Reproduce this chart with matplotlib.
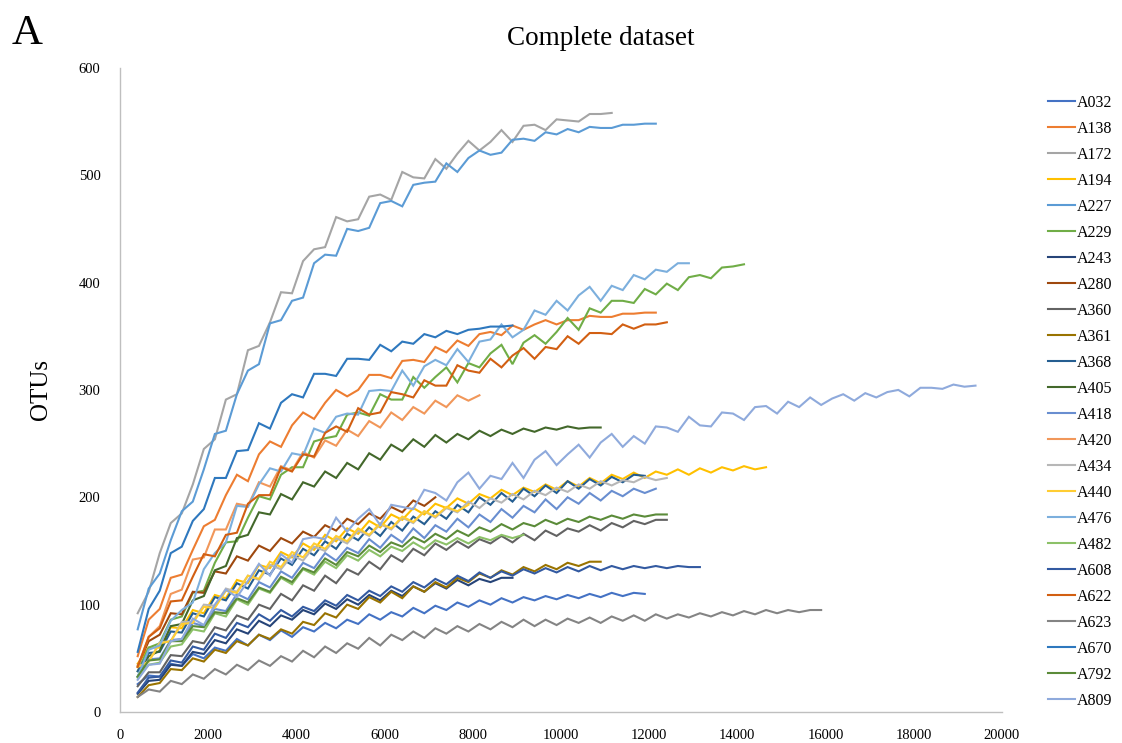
import numpy as np
import matplotlib
matplotlib.use("Agg")
import matplotlib.pyplot as plt

plt.rcParams['font.family'] = ['Liberation Serif', 'DejaVu Serif']

# rarefaction sampling: first depth and depth step (reads)
START = 400
STEP = 250

names = ["A032", "A138", "A172", "A194", "A227", "A229", "A243", "A280",
         "A360", "A361", "A368", "A405", "A418", "A420", "A434", "A440",
         "A476", "A482", "A608", "A622", "A623", "A670", "A792", "A809"]

A032 = [26,34,33,45,43, 54,50,60,57, 68,62,72,67, 76,70,79,75, 83,78,86,82,
        91,86,93,89, 97,92,99,95, 102,98,104,100, 106,102,107,104, 108,105,109,106,
        110,107,111,108, 111,110]
A138 = [52,86,96,125,128,151,173,179,202,221,215,240,252,247,267,279,273,288,300,294,
        300,314,314,311,327,328,326,340,335,346,341,352,354,351,360,356,361,365,361,365,
        365,369,368,368,371,371,372,372]
A172 = [92,112,148,176,185,212,245,254,291,296,337,341,363,391,390,420,431,433,461,457,
        459,480,482,477,503,498,497,515,506,520,532,523,531,542,531,546,547,542,552,551,
        550,557,557,558]
A194 = [45,60,60,79,78, 95,92,109,106, 123,120,137,134, 149,144,157,151, 165,159,171,166,
        178,172,184,179, 190,184,194,190, 199,194,203,199, 207,202,209,205, 212,207,215,210,
        218,213,221,217, 223,218,224,221, 226,221,227,223, 228,225,229,226, 228]
A227 = [77,115,129,160,187,196,226,259,262,296,318,324,362,365,383,386,418,426,425,450,
        448,451,474,476,471,491,493,494,511,503,516,523,519,521,533,534,532,540,538,543,
        540,545,544,544,547,547,548,548]
A229 = [38,60,64,86,89,111,113,139,158,159,181,201,198,221,228,228,252,255,257,277,
        279,276,296,291,291,312,302,312,321,307,325,321,334,342,324,344,351,343,354,367,
        356,376,372,383,383,381,394,389,399,393,405,407,404,414,415,417]
A243 = [17,29,30,44,43,56,54,67,64,77,73,85,80,90,86,95,91,101,96,105,
        100,109,104,113,108,117,112,120,115,123,118,124,121,125,125]
A280 = [43,66,72,92,91,112,111,131,129,145,141,155,150,162,157,168,163,174,169,180,
        175,185,180,191,186,197,192,200]
A360 = [24,37,37,53,52, 66,64,79,76, 90,86,100,96, 110,104,118,113, 127,120,133,128,
        140,133,146,140, 152,146,157,151, 159,153,161,157, 164,158,166,160, 169,164,171,168,
        174,169,176,172, 178,175,179,179]
A361 = [14,25,27,40,39,50,47,58,55,66,62,72,68,77,73,84,81,92,88,100,
        96,107,102,112,106,117,112,121,116,125,121,129,125,132,128,135,131,137,133,139,
        136,140,140]
A368 = [38,55,56,75,74, 92,89,107,104, 120,115,132,128, 143,137,152,146, 159,152,166,160,
        172,164,177,169, 182,175,187,180, 193,186,200,193, 204,196,208,201, 211,204,215,208,
        217,211,219,214, 221,220]
A405 = [33,52,57,80,82,104,108,132,136,162,165,186,184,203,198,214,210,224,218,232,
        226,241,235,249,243,254,247,258,251,259,254,262,257,263,259,264,261,265,263,266,
        264,265,265]
A418 = [33,49,50,67,68, 83,80,96,94, 110,105,121,116, 131,125,139,134, 148,141,153,148,
        161,153,165,158, 171,162,174,168, 180,172,184,177, 189,181,192,186, 198,189,200,194,
        204,197,206,201, 208,204,208]
A420 = [42,70,80,110,114,142,144,170,170,194,192,214,210,229,225,242,237,253,248,263,
        257,271,265,279,272,284,278,290,284,295,290,295]
A434 = [42,47,65,66,84, 84,100,99,115, 112,127,123,137, 133,146,141,154, 150,162,157,169,
        164,175,170,181, 176,187,181,190, 186,196,190,199, 195,203,198,206, 202,209,205,212,
        208,215,211,216, 214,219,216,218]
A440 = [42,47,64,66,82, 83,98,97,113, 111,127,124,140, 135,149,144,157, 152,164,159,171,
        165,176,171,182, 177,187,182,191, 187,193]
A476 = [33,58,62,85,95,102,133,148,158,192,191,212,227,224,241,239,264,260,275,278,
        277,299,300,299,318,304,322,328,323,338,326,345,347,361,349,356,374,370,383,374,
        388,396,383,397,393,407,403,412,410,418,418]
A482 = [32,44,46,61,63, 77,75,92,89, 105,100,115,111, 125,119,133,128, 140,134,146,141,
        151,145,154,150, 158,152,160,156, 162,157,163,160, 165,162,165]
A608 = [18,32,33,48,46,61,58,73,69,83,79,91,85,95,89,98,94,104,99,109,
        104,113,108,117,112,121,116,124,119,127,122,130,125,131,127,133,129,134,130,135,
        131,136,132,136,133,136,134,136,134,136,135,135]
A622 = [42,70,78,103,104,126,147,145,165,167,194,202,202,228,224,240,238,260,266,261,
        283,277,279,298,296,293,309,304,304,323,318,316,329,321,332,339,329,340,338,350,
        343,353,353,352,361,357,361,361,363]
A623 = [14,21,19,29,26, 35,31,40,35, 44,39,48,43, 52,47,57,51, 61,55,64,59,
        69,62,72,67, 75,69,78,73, 80,75,82,77, 84,79,86,80, 86,81,87,83,
        88,83,89,85, 90,85,91,87, 91,88,92,89, 93,90,94,91, 95,92,95,93, 95,95]
A670 = [56,96,113,148,154,178,189,218,218,243,244,269,264,288,296,293,315,315,313,329,
        329,328,342,336,345,343,352,349,355,352,356,357,359,359,360]
A792 = [33,48,49,66,66, 80,79,93,92, 106,102,116,112, 126,121,134,130, 143,137,149,145,
        155,149,158,154, 163,158,166,161, 169,164,172,168, 175,170,176,173, 179,175,180,177,
        182,179,183,180, 184,182,184,184]
A809 = [30,44,45,66,68, 87,81,100,114, 107,122,138,127, 147,139,161,163, 161,181,168,180,
        189,174,193,191, 189,207,204,197, 214,223,208,220, 217,232,218,235, 243,230,240,249,
        237,251,259,247, 257,250,266,265, 261,275,267,266, 279,278,272,284, 285,278,289,284,
        293,286,292,296, 290,297,293,298, 300,294,302,302, 301,305,303,304]

series = [A032, A138, A172, A194, A227, A229, A243, A280, A360, A361, A368, A405,
          A418, A420, A434, A440, A476, A482, A608, A622, A623, A670, A792, A809]

colors = ["#4472C4", "#ED7D31", "#A5A5A5", "#FFC000", "#5B9BD5", "#70AD47",
          "#264478", "#9E480E", "#636363", "#997300", "#255E91", "#43682B",
          "#698ED0", "#F1975A", "#B7B7B7", "#FFCD33", "#7CAFDD", "#8CC168",
          "#335AA1", "#D25F12", "#848484", "#2E78BE", "#5B8B39", "#8FAADC"]

xticks = list(range(0, 20001, 2000))
yticks = list(range(0, 601, 100))

fig = plt.figure(figsize=(11.22, 7.43), dpi=100)
ax = fig.add_axes([0.107, 0.0417, 0.786, 0.867])

for name, vals, c in zip(names, series, colors):
    x = START + STEP * np.arange(len(vals))
    ax.plot(x, vals, color=c, lw=1.5, label=name, solid_joinstyle='miter')

ax.set_xlim(0, 20000)
ax.set_ylim(0, 600)
ax.set_xticks(xticks)
ax.set_yticks(yticks)
ax.tick_params(axis='both', length=0, labelsize=10.5, colors='#000000')
ax.tick_params(axis='x', pad=12)
ax.tick_params(axis='y', pad=14)
for s in ['top', 'right']:
    ax.spines[s].set_visible(False)
for s in ['left', 'bottom']:
    ax.spines[s].set_color('#BFBFBF')
    ax.spines[s].set_linewidth(1.0)

ax.set_ylabel("OTUs", fontsize=18, labelpad=19)
fig.text(0.535, 0.948, "Complete dataset", fontsize=19.5, ha='center', va='center')
fig.text(0.010, 0.955, "A", fontsize=31, ha='left', va='center')

fig.legend(loc='upper left', bbox_to_anchor=(0.934, 0.8725), frameon=False,
           fontsize=11.5, handlelength=1.7, handletextpad=0.1, labelspacing=0.626,
           borderaxespad=0, borderpad=0)

fig.savefig("out.png", dpi=100)
